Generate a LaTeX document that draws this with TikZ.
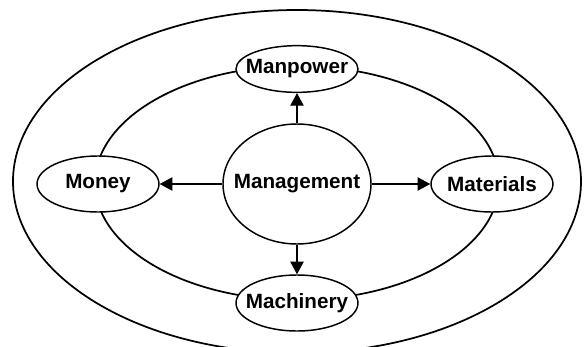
\documentclass[tikz,border=0pt]{standalone}
\usepackage{fontspec}
\setmainfont{Liberation Sans}
\usetikzlibrary{shapes.geometric,arrows.meta}

\begin{document}
\begin{tikzpicture}[x=0.75pt,y=-0.75pt,
  oval/.style={ellipse,draw,line width=1.1pt,fill=white,inner sep=0pt,
    minimum width=91.5pt,minimum height=42pt,
    font=\bfseries\fontsize{15.5}{18}\selectfont},
  arr/.style={-{Triangle[length=9.5pt,width=10pt]},line width=1.1pt}]
  \clip (0,0) rectangle (587,347);
  \draw[line width=1.3pt] (297,181.5) ellipse [x radius=284, y radius=171.5];
  \draw[line width=1.3pt] (297,183) ellipse [x radius=202, y radius=117];

  \node[oval,minimum width=111pt,minimum height=90pt] (mgmt) at (297,184) {\makebox[0pt]{Management}};
  \node[oval,minimum height=35pt] (manpower) at (297,69) {\makebox[0pt]{Manpower}};
  \node[oval] (money) at (98,184) {\makebox[0pt]{Money}};
  \node[oval] (materials) at (492,184) {\makebox[0pt]{Materials}};
  \node[oval] (machinery) at (297,303) {\makebox[0pt]{Machinery}};

  \foreach \t in {manpower,money,materials,machinery}
    \draw[arr] (mgmt) -- (\t);
\end{tikzpicture}
\end{document}
